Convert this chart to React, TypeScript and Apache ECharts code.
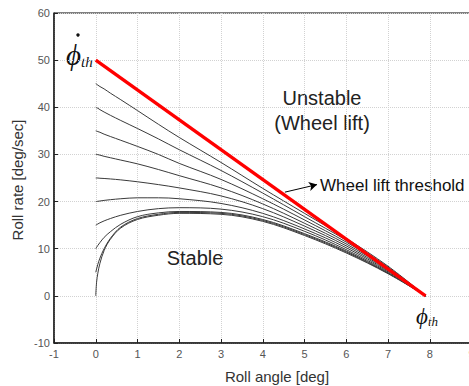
import React, { useEffect, useRef } from "react";
import * as echarts from "echarts";

// Roll angle sample points [deg]
const xs = [0, 0.02, 0.05, 0.1, 0.2, 0.35, 0.6, 1, 1.5, 2, 3, 4, 5, 6, 7, 7.9];

// Roll rate trajectories [deg/sec], by initial roll rate
const c45 = [45, 44.9, 44.7, 44.4, 43.9, 43.0, 41.6, 39.3, 36.4, 33.6, 28.3, 22.8, 17.5, 12.2, 6.3, 0];
const c40 = [40, 39.9, 39.8, 39.5, 39.0, 38.3, 37.2, 35.5, 33.3, 31.0, 26.6, 21.8, 16.8, 11.8, 6.1, 0];
const c35 = [35, 34.95, 34.85, 34.7, 34.3, 33.8, 33.0, 31.7, 30.0, 28.1, 24.7, 20.6, 16.1, 11.4, 5.9, 0];
const c30 = [30, 30, 29.95, 29.85, 29.6, 29.3, 28.8, 28.0, 26.8, 25.5, 22.9, 19.5, 15.4, 11.0, 5.7, 0];
const c25 = [25, 25, 25, 24.95, 24.9, 24.8, 24.6, 24.2, 23.6, 22.9, 21.2, 18.5, 14.8, 10.6, 5.5, 0];
const c20 = [20, 20.02, 20.06, 20.12, 20.25, 20.4, 20.6, 20.8, 20.8, 20.6, 19.6, 17.5, 14.2, 10.2, 5.3, 0];
const c15 = [15, 15.1, 15.25, 15.5, 15.9, 16.4, 17.1, 17.9, 18.5, 18.7, 18.4, 16.8, 13.7, 9.8, 5.1, 0];
const c10 = [10, 10.3, 10.7, 11.3, 12.4, 13.6, 15.2, 16.8, 17.6, 17.9, 17.7, 16.2, 13.2, 9.5, 4.9, 0];
const c5 = [5, 5.7, 6.7, 8.0, 10.0, 12.2, 14.6, 16.4, 17.3, 17.7, 17.5, 16.0, 13.0, 9.3, 4.8, 0];
const c0 = [0, 2.9, 4.8, 6.9, 9.6, 12.0, 14.4, 16.2, 17.1, 17.5, 17.3, 15.8, 12.8, 9.1, 4.7, 0];
const curves = [c45, c40, c35, c30, c25, c20, c15, c10, c5, c0];

// Wheel lift threshold line
const thresholdX = [0, 7.9];
const thresholdY = [50, 0];

// Arrow annotation (data coords)
const arrowFrom = [4.53, 22.0];
const arrowTo = [5.3, 23.6];

export default function App() {
  const ref = useRef<HTMLDivElement>(null);
  useEffect(() => {
    if (!ref.current) return;
    const chart = echarts.init(ref.current, undefined, { renderer: "svg" });
    const font = "'Liberation Sans', Arial, sans-serif";
    const serif = "'Liberation Serif', 'Times New Roman', serif";
    const series: any[] = curves.map((ys) => ({
      type: "line",
      data: xs.map((x, i) => [x, ys[i]]),
      smooth: 0.35,
      showSymbol: false,
      symbol: "none",
      lineStyle: { color: "#3a3a3a", width: 1 },
      z: 2,
    }));
    series.push({
      type: "line",
      data: thresholdX.map((x, i) => [x, thresholdY[i]]),
      showSymbol: false,
      symbol: "none",
      lineStyle: { color: "#ff0000", width: 3.3 },
      z: 3,
      markLine: {
        silent: true,
        symbol: ["none", "arrow"],
        symbolSize: [7, 8],
        label: { show: false },
        lineStyle: { color: "#000", width: 1, type: "solid" },
        data: [[{ coord: arrowFrom }, { coord: arrowTo }]],
      },
    });
    chart.setOption({
      animation: false,
      grid: {
        left: 54,
        top: 13,
        width: 417.5,
        height: 330,
        show: true,
        borderColor: "#000",
        borderWidth: 1,
        outerBoundsMode: "none",
        containLabel: false,
      },
      xAxis: {
        type: "value",
        min: -1,
        max: 9,
        interval: 1,
        axisLine: { onZero: false, lineStyle: { color: "#222", width: 1.5 } },
        axisTick: { inside: true, length: 4, lineStyle: { color: "#222" } },
        axisLabel: { color: "#555", fontSize: 11, fontFamily: font, margin: 5 },
        splitLine: { show: true, lineStyle: { color: "#d2d2d2", type: "dotted", width: 1 } },
      },
      yAxis: {
        type: "value",
        min: -10,
        max: 60,
        interval: 10,
        axisLine: { onZero: false, lineStyle: { color: "#222", width: 1.5 } },
        axisTick: { inside: true, length: 4, lineStyle: { color: "#222" } },
        axisLabel: { color: "#555", fontSize: 11, fontFamily: font, margin: 4 },
        splitLine: { show: true, lineStyle: { color: "#d2d2d2", type: "dotted", width: 1 } },
      },
      series,
      graphic: [
        {
          type: "text",
          x: 17.5,
          y: 180,
          rotation: Math.PI / 2,
          style: { text: "Roll rate [deg/sec]", font: `15px ${font}`, fill: "#333", align: "center", verticalAlign: "middle" },
        },
        {
          type: "text",
          x: 277,
          y: 376,
          style: { text: "Roll angle [deg]", font: `15px ${font}`, fill: "#333", align: "center", verticalAlign: "middle" },
        },
        {
          type: "text",
          x: 322,
          y: 98,
          style: { text: "Unstable", font: `20px ${font}`, fill: "#222", align: "center", verticalAlign: "middle" },
        },
        {
          type: "text",
          x: 322,
          y: 123,
          style: { text: "(Wheel lift)", font: `20px ${font}`, fill: "#222", align: "center", verticalAlign: "middle" },
        },
        {
          type: "text",
          x: 195,
          y: 258,
          style: { text: "Stable", font: `20px ${font}`, fill: "#222", align: "center", verticalAlign: "middle" },
        },
        {
          type: "text",
          x: 320,
          y: 185,
          style: { text: "Wheel lift threshold", font: `17px ${font}`, fill: "#111", align: "left", verticalAlign: "middle" },
        },
        {
          type: "text",
          x: 66,
          y: 55,
          style: {
            text: "{p|ϕ}{s|th}",
            verticalAlign: "middle",
            rich: {
              p: { font: `italic 29px ${serif}`, fill: "#111", verticalAlign: "bottom" },
              s: { font: `italic 15px ${serif}`, fill: "#111", verticalAlign: "bottom" },
            },
          },
        },
        {
          type: "circle",
          shape: { cx: 78, cy: 35, r: 1.7 },
          style: { fill: "#111" },
        },
        {
          type: "text",
          x: 416,
          y: 316,
          style: {
            text: "{p|ϕ}{s|th}",
            verticalAlign: "middle",
            rich: {
              p: { font: `italic 23px ${serif}`, fill: "#111", verticalAlign: "bottom" },
              s: { font: `italic 13px ${serif}`, fill: "#111", verticalAlign: "bottom" },
            },
          },
        },
      ],
    });
    return () => chart.dispose();
  }, []);
  return (
    <div
      ref={ref}
      style={{ position: "absolute", left: 0, top: 0, width: 469, height: 386, background: "#fff" }}
    />
  );
}
